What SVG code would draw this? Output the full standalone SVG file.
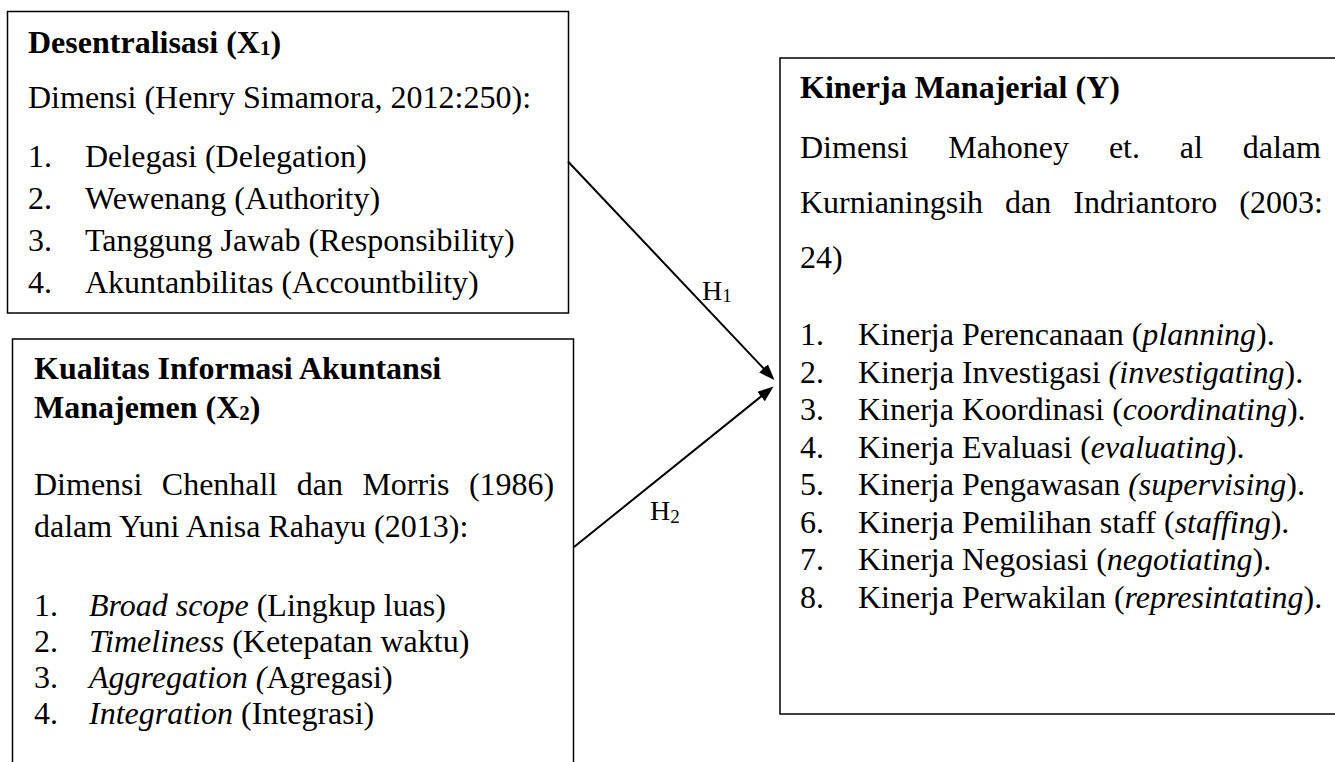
<svg xmlns="http://www.w3.org/2000/svg" width="1335" height="762" viewBox="0 0 1335 762">
  <style>
    .box { fill: #ffffff; stroke: #000000; stroke-width: 1.5; }
    text { font-family: "Liberation Serif", "Times New Roman", serif; font-size: 32px; fill: #000000; }
    .b { font-weight: bold; }
    .i { font-style: italic; }
    .sub { font-size: 21px; }
    .h { font-size: 28px; }
    .hs { font-size: 19px; }
    .conn { stroke: #000000; stroke-width: 2; fill: none; }
  </style>
  <defs>
    <marker id="arrow" markerUnits="userSpaceOnUse" markerWidth="18" markerHeight="14" refX="12" refY="6" orient="auto">
      <path d="M0,0 L16,6 L0,12 z" fill="#000000"/>
    </marker>
  </defs>
  <rect width="1335" height="762" fill="#ffffff"/>

  <g id="node-x1">
    <rect class="box" x="7.5" y="11.5" width="561" height="301.5"/>
    <text class="b" x="28" y="53">Desentralisasi (X<tspan class="sub" dy="2">1</tspan><tspan dy="-2">)</tspan></text>
    <text x="28" y="108">Dimensi (Henry Simamora, 2012:250):</text>
    <text x="28" y="167">1.</text><text x="85" y="167">Delegasi (Delegation)</text>
    <text x="28" y="209">2.</text><text x="85" y="209">Wewenang (Authority)</text>
    <text x="28" y="251">3.</text><text x="85" y="251">Tanggung Jawab (Responsibility)</text>
    <text x="28" y="293">4.</text><text x="85" y="293">Akuntanbilitas (Accountbility)</text>
  </g>

  <g id="node-x2">
    <rect class="box" x="12.5" y="339" width="561" height="440"/>
    <text class="b" x="34" y="379">Kualitas Informasi Akuntansi</text>
    <text class="b" x="34" y="418">Manajemen (X<tspan class="sub" dy="2">2</tspan><tspan dy="-2">)</tspan></text>
    <text y="495"><tspan x="34">Dimensi</tspan><tspan x="161.8">Chenhall</tspan><tspan x="296.8">dan</tspan><tspan x="362.4">Morris</tspan><tspan x="468.9">(1986)</tspan></text>
    <text x="34" y="537">dalam Yuni Anisa Rahayu (2013):</text>
    <text x="34" y="616">1.</text><text x="89" y="616"><tspan class="i">Broad scope</tspan> (Lingkup luas)</text>
    <text x="34" y="652">2.</text><text x="89" y="652"><tspan class="i">Timeliness</tspan> (Ketepatan waktu)</text>
    <text x="34" y="688">3.</text><text x="89" y="688"><tspan class="i">Aggregation (</tspan>Agregasi)</text>
    <text x="34" y="724">4.</text><text x="89" y="724"><tspan class="i">Integration</tspan> (Integrasi)</text>
  </g>

  <g id="node-y">
    <rect class="box" x="780" y="58" width="570" height="656"/>
    <text class="b" x="800" y="98">Kinerja Manajerial (Y)</text>
    <text y="158"><tspan x="800">Dimensi</tspan><tspan x="948.2">Mahoney</tspan><tspan x="1108.9">et.</tspan><tspan x="1179.8">al</tspan><tspan x="1242.7">dalam</tspan></text>
    <text y="213"><tspan x="800">Kurnianingsih</tspan><tspan x="1005.1">dan</tspan><tspan x="1073.3">Indriantoro</tspan><tspan x="1239.3">(2003:</tspan></text>
    <text x="800" y="268">24)</text>
    <text x="800" y="345">1.</text><text x="858" y="345">Kinerja Perencanaan (<tspan class="i">planning</tspan>).</text>
    <text x="800" y="382.5">2.</text><text x="858" y="382.5">Kinerja Investigasi <tspan class="i">(investigating</tspan>).</text>
    <text x="800" y="420">3.</text><text x="858" y="420">Kinerja Koordinasi (<tspan class="i">coordinating</tspan>).</text>
    <text x="800" y="457.5">4.</text><text x="858" y="457.5">Kinerja Evaluasi (<tspan class="i">evaluating</tspan>).</text>
    <text x="800" y="495">5.</text><text x="858" y="495">Kinerja Pengawasan <tspan class="i">(supervising</tspan>).</text>
    <text x="800" y="532.5">6.</text><text x="858" y="532.5">Kinerja Pemilihan staff (<tspan class="i">staffing</tspan>).</text>
    <text x="800" y="570">7.</text><text x="858" y="570">Kinerja Negosiasi (<tspan class="i">negotiating</tspan>).</text>
    <text x="800" y="607.5">8.</text><text x="858" y="607.5">Kinerja Perwakilan (<tspan class="i">represintating</tspan>).</text>
  </g>

  <g id="connectors">
    <line class="conn" x1="568" y1="161.5" x2="771.75" y2="377.1" marker-end="url(#arrow)"/>
    <line class="conn" x1="574" y1="547" x2="770.4" y2="389" marker-end="url(#arrow)"/>
    <text class="h" x="702" y="300">H<tspan class="hs" dy="2">1</tspan></text>
    <text class="h" x="650" y="520">H<tspan class="hs" dy="3">2</tspan></text>
  </g>
</svg>
